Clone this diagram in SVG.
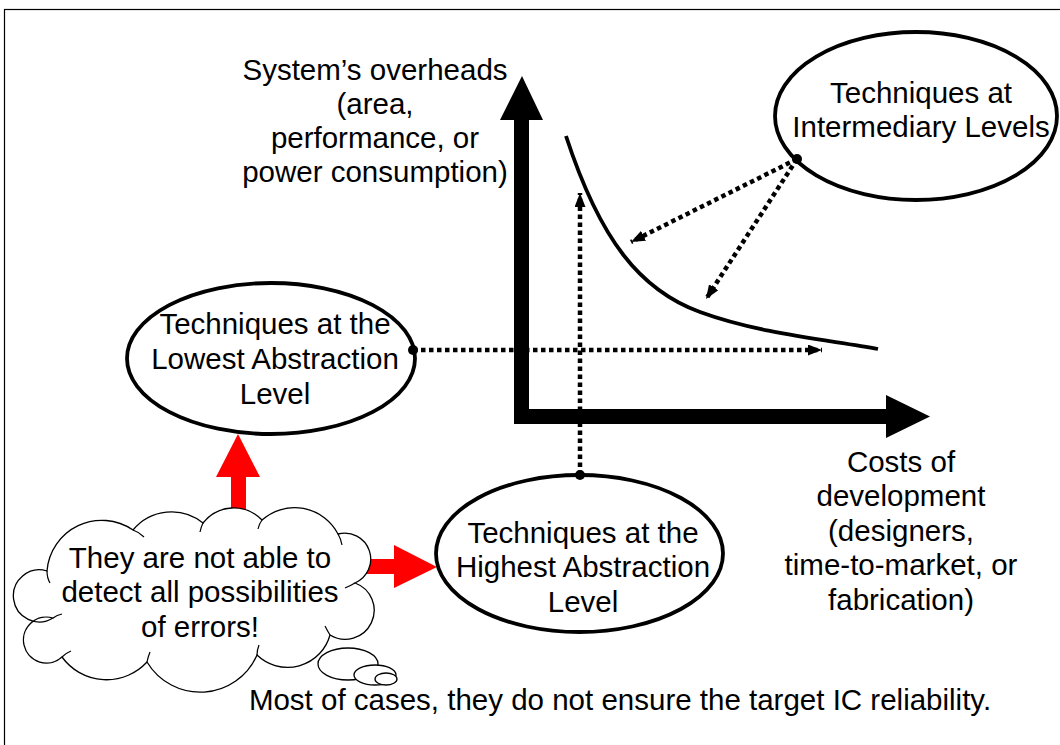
<svg xmlns="http://www.w3.org/2000/svg" width="1060" height="745" viewBox="0 0 1060 745">
<defs>
<style>
text{font-family:"Liberation Sans",Arial,sans-serif;font-size:29.5px;fill:#000;text-anchor:middle}
.node{fill:#fff;stroke:#000;stroke-width:3.8}
.dot{stroke:#000;stroke-width:4.5;stroke-dasharray:4.5 3.5;fill:none}
.cloud{fill:#fff;stroke:#000;stroke-width:1.3}
.inner{fill:none;stroke:#000;stroke-width:1.2}
</style>
<marker id="ah" viewBox="0 0 14 11" refX="14" refY="5.5" markerWidth="14" markerHeight="11" markerUnits="userSpaceOnUse" orient="auto">
<path d="M0,0 L14,5.5 L0,11 Z" fill="#000"/>
</marker>
</defs>
<rect width="1060" height="745" fill="#fff"/>
<rect x="4.5" y="9.5" width="1100" height="800" fill="none" stroke="#000" stroke-width="1.2"/>

<g id="axes">
<rect x="514" y="118" width="15" height="306" fill="#000"/>
<path d="M522,76 L543,120 L500,120 Z" fill="#000"/>
<rect x="514" y="409" width="374" height="15" fill="#000"/>
<path d="M930,416.5 L886,438 L886,395 Z" fill="#000"/>
<path d="M566,136 C600,240 640,290 700,312 S830,340 878,349" fill="none" stroke="#000" stroke-width="3.8"/>
</g>

<g id="axis-labels">
<text x="375" y="80">System’s overheads</text>
<text x="375" y="114">(area,</text>
<text x="375" y="148">performance, or</text>
<text x="375" y="182">power consumption)</text>
<text x="901" y="472">Costs of</text>
<text x="901" y="506">development</text>
<text x="901" y="541">(designers,</text>
<text x="901" y="575">time-to-market, or</text>
<text x="901" y="610">fabrication)</text>
</g>

<g id="red-arrows">
<rect x="231" y="470" width="15" height="50" fill="#f00"/>
<path d="M238,434 L260,477 L216,477 Z" fill="#f00"/>
<rect x="360" y="559" width="40" height="15" fill="#f00"/>
<path d="M437,567 L394,588 L394,545 Z" fill="#f00"/>
</g>

<g id="bubbles">
<ellipse class="cloud" cx="348" cy="664" rx="30" ry="16"/>
<ellipse class="cloud" cx="375" cy="675" rx="21" ry="10"/>
<ellipse class="cloud" cx="386" cy="679" rx="11" ry="6"/>
</g>

<g id="cloud">
<path class="cloud" d="M47,571 A55,55 0 0 1 133,530 A50,50 0 0 1 203,523 A39,39 0 0 1 262,520 A49,49 0 0 1 338,534 A26,26 0 0 1 355,583 A29,29 0 1 1 330,635 A44,44 0 0 1 257,655 A62,62 0 0 1 147,662 A55,55 0 0 1 62,657 A23,23 0 1 1 53,618 A26,26 0 1 1 47,571 Z"/>
<path class="inner" d="M47,571 Q47,578 50,583 M133,530 Q139,532 144,537 M203,523 Q201,527 200,532 M262,520 Q259,524 258,529 M338,534 Q341,539 342,545 M355,583 Q350,586 345,588 M330,635 Q327,630 325,626 M257,655 Q257,650 259,645 M147,662 Q148,657 150,652 M62,657 Q66,653 71,651 M53,618 Q57,615 62,614"/>
<text x="200" y="568">They are not able to</text>
<text x="200" y="602">detect all possibilities</text>
<text x="200" y="637">of errors!</text>
</g>

<g id="node-lowest">
<ellipse class="node" cx="271" cy="358.5" rx="144" ry="75.5"/>
<text x="275" y="334">Techniques at the</text>
<text x="275" y="369">Lowest Abstraction</text>
<text x="275" y="404">Level</text>
</g>

<g id="node-highest">
<ellipse class="node" cx="579.5" cy="553.5" rx="143.5" ry="78.5"/>
<text x="583" y="543">Techniques at the</text>
<text x="583" y="577">Highest Abstraction</text>
<text x="583" y="612">Level</text>
</g>

<g id="node-intermediary">
<ellipse class="node" cx="916" cy="116" rx="141" ry="84"/>
<text x="921" y="103">Techniques at</text>
<text x="921" y="137">Intermediary Levels</text>
</g>

<g id="connectors">
<line class="dot" x1="413" y1="350" x2="822" y2="350" marker-end="url(#ah)"/>
<line class="dot" x1="580" y1="475" x2="580" y2="193" marker-end="url(#ah)"/>
<line class="dot" x1="797" y1="159" x2="631" y2="242" marker-end="url(#ah)"/>
<line class="dot" x1="797" y1="159" x2="706" y2="299" marker-end="url(#ah)"/>
<circle cx="413" cy="350" r="5" fill="#000"/>
<circle cx="580" cy="475" r="5" fill="#000"/>
<circle cx="797" cy="159" r="5" fill="#000"/>
</g>

<text x="620" y="710">Most of cases, they do not ensure the target IC reliability.</text>
</svg>
